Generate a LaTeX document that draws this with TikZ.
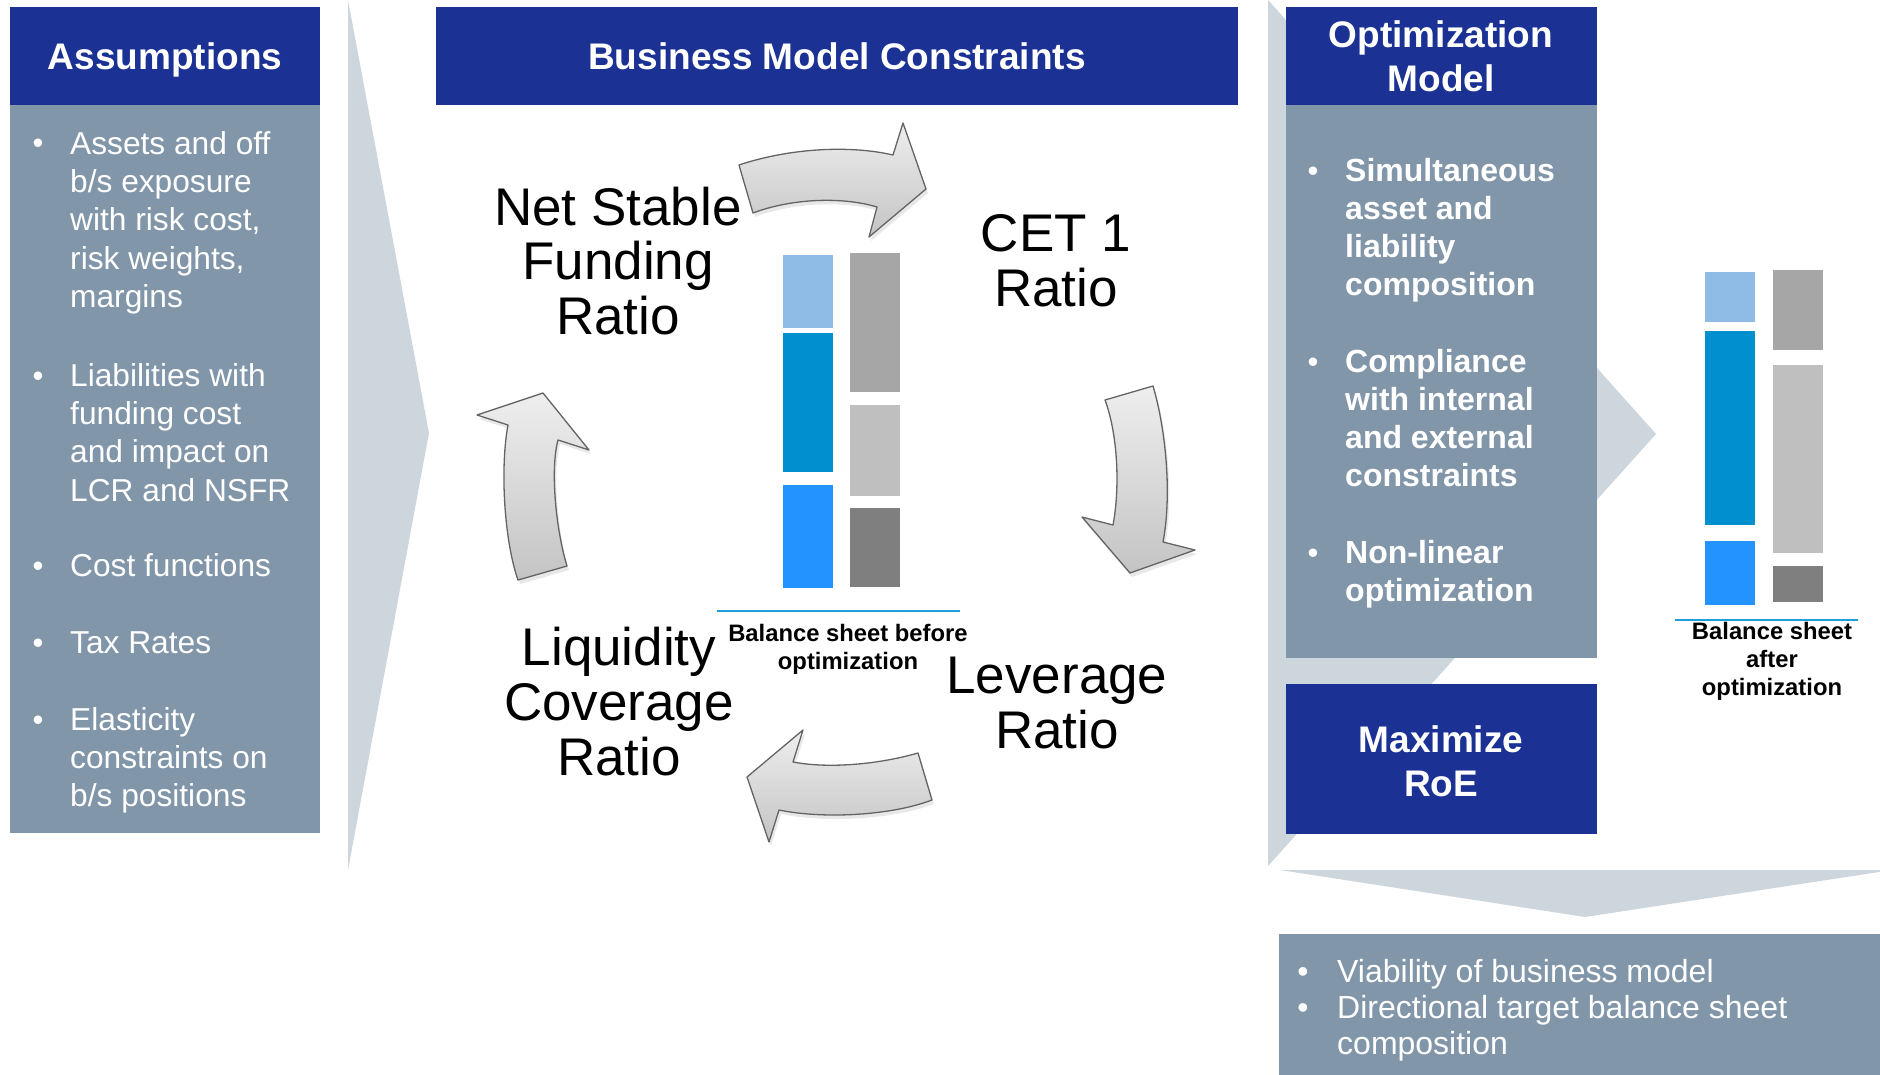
\documentclass[tikz,border=0pt]{standalone}
\usepackage{fontspec}
\setmainfont{Liberation Sans}
\usetikzlibrary{shadows}

\definecolor{hdrblue}{RGB}{27,50,148}
\definecolor{bodygrey}{RGB}{130,150,170}
\definecolor{chevgrey}{RGB}{205,213,221}
\definecolor{paleblue}{RGB}{143,188,230}
\definecolor{midblue}{RGB}{0,144,208}
\definecolor{brightblue}{RGB}{35,148,255}
\definecolor{greyA}{RGB}{166,166,166}
\definecolor{greyB}{RGB}{191,191,191}
\definecolor{greyC}{RGB}{127,127,127}
\definecolor{rulecyan}{RGB}{28,160,214}
\definecolor{arrowedge}{RGB}{100,100,100}
\definecolor{arrowtop}{RGB}{238,238,238}
\definecolor{arrowbottom}{RGB}{196,196,196}

% multi-line nodes are placed by the baseline of their last line
\tikzset{
  hdrtext/.style={text=white, font=\fontsize{37}{44}\selectfont\bfseries,
    inner sep=0pt, align=center, anchor=base},
  itemtext/.style={text=white, font=\fontsize{31.7}{38.4}\selectfont,
    inner sep=0pt, align=left, anchor=base west},
  bolditemtext/.style={itemtext, font=\fontsize{32}{38}\selectfont\bfseries},
  bulletmark/.style={text=white, font=\fontsize{31}{38}\selectfont,
    inner sep=0pt, anchor=base},
  ratiolabel/.style={font=\fontsize{53}{55}\selectfont, inner sep=0pt,
    align=center, anchor=base},
  bscaption/.style={font=\fontsize{23.8}{28}\selectfont\bfseries,
    inner sep=0pt, align=center, anchor=base},
  cyclearrow/.style={top color=arrowtop, bottom color=arrowbottom,
    draw=arrowedge, line width=1.3pt, line join=round,
    drop shadow={opacity=0.18, shadow xshift=2pt, shadow yshift=-4pt}},
  bsrule/.style={draw=rulecyan, line width=1.4pt},
}

\begin{document}
\begin{tikzpicture}[x=1pt, y=-1pt]
\useasboundingbox (0,0) rectangle (1880,1075);

% ---- background chevrons ----
\fill[chevgrey] (348,0) -- (429,433) -- (348,870) -- cycle;
\fill[chevgrey] (1268,0) -- (1656,434) -- (1268,866) -- cycle;
\fill[chevgrey] (1280,870) -- (1892,870) -- (1585,917) -- cycle;

% ---- Assumptions column ----
\fill[hdrblue] (10,7) rectangle (320,105);
\fill[bodygrey] (10,105) rectangle (320,833);
\node[hdrtext] (assumhdr) at (165,70) {Assumptions};

\node[bulletmark] (ab1) at (38,154) {•};
\node[itemtext] (a1) at (70,307.6) {Assets and off\\b/s exposure\\with risk cost,\\risk weights,\\margins};
\node[bulletmark] (ab2) at (38,386) {•};
\node[itemtext] (a2) at (70,501.2) {Liabilities with\\funding cost\\and impact on\\LCR and NSFR};
\node[bulletmark] (ab3) at (38,576) {•};
\node[itemtext] (a3) at (70,576) {Cost functions};
\node[bulletmark] (ab4) at (38,653) {•};
\node[itemtext] (a4) at (70,653) {Tax Rates};
\node[bulletmark] (ab5) at (38,730) {•};
\node[itemtext] (a5) at (70,806.8) {Elasticity\\constraints on\\b/s positions};

% ---- Business model constraints ----
\fill[hdrblue] (436,7) rectangle (1238,105);
\node[hdrtext] (bmchdr) at (837,70) {Business Model Constraints};

% cycle of curved arrows
\shade[cyclearrow] (739,165) .. controls (790,148) and (850,145) .. (893,155)
  -- (903,123) -- (926,189) -- (869,237) -- (877,207)
  .. controls (840,196) and (790,199) .. (753,213) -- cycle;
\shade[cyclearrow] (1105,400) -- (1153,386)
  .. controls (1166,430) and (1172,495) .. (1163,542)
  -- (1195,550) -- (1130,573) -- (1082,517) -- (1113,525)
  .. controls (1120,488) and (1118,435) .. cycle;
\shade[cyclearrow] (918,753) .. controls (880,764) and (830,769) .. (793,762)
  -- (803,730) -- (747,777) -- (769,842) -- (779,810)
  .. controls (822,819) and (890,816) .. (932,800) -- cycle;
\shade[cyclearrow] (518,580) -- (567,566)
  .. controls (556,530) and (550,470) .. (558,440)
  -- (589,450) -- (543,393) -- (477,415) -- (508,425)
  .. controls (500,468) and (504,540) .. cycle;

% ratio labels
\node[ratiolabel] (nsfr) at (618,335) {Net Stable\\Funding\\Ratio};
\node[ratiolabel] (cet1) at (1056,307) {CET 1\\Ratio};
\node[ratiolabel] (lcr) at (619,775) {Liquidity\\Coverage\\Ratio};
\node[ratiolabel] (lev) at (1057,748) {Leverage\\Ratio};

% balance sheet before optimization
\fill[paleblue]   (783,255) rectangle (833,328);
\fill[midblue]    (783,333) rectangle (833,472);
\fill[brightblue] (783,485) rectangle (833,588);
\fill[greyA] (850,253) rectangle (900,392);
\fill[greyB] (850,405) rectangle (900,496);
\fill[greyC] (850,508) rectangle (900,587);
\coordinate (bfl) at (717,611);
\coordinate (bfr) at (960,611);
\draw[bsrule] (bfl) -- (bfr);
\node[bscaption] (bfcap) at (848,669) {Balance sheet before\\optimization};

% ---- Optimization model column ----
\fill[hdrblue] (1286,7) rectangle (1597,105);
\fill[bodygrey] (1286,105) rectangle (1597,658);
\node[hdrtext] (opthdr) at (1441,92) {Optimization\\Model};

\node[bulletmark] (ob1) at (1313,182) {•};
\node[bolditemtext] (o1) at (1345,296) {Simultaneous\\asset and\\liability\\composition};
\node[bulletmark] (ob2) at (1313,372) {•};
\node[bolditemtext] (o2) at (1345,486) {Compliance\\with internal\\and external\\constraints};
\node[bulletmark] (ob3) at (1313,563) {•};
\node[bolditemtext] (o3) at (1345,601) {Non-linear\\optimization};

\fill[hdrblue] (1286,684) rectangle (1597,834);
\node[hdrtext] (maxroe) at (1441,796) {Maximize\\RoE};

% balance sheet after optimization
\fill[paleblue]   (1705,272) rectangle (1755,322);
\fill[midblue]    (1705,331) rectangle (1755,525);
\fill[brightblue] (1705,541) rectangle (1755,605);
\fill[greyA] (1773,270) rectangle (1823,350);
\fill[greyB] (1773,365) rectangle (1823,553);
\fill[greyC] (1773,566) rectangle (1823,602);
\coordinate (afl) at (1675,620);
\coordinate (afr) at (1858,620);
\draw[bsrule] (afl) -- (afr);
\node[bscaption] (afcap) at (1772,695) {Balance sheet\\after\\optimization};

% ---- outcome box ----
\fill[bodygrey] (1279,934) rectangle (1880,1075);
\node[bulletmark, font=\fontsize{32}{36}\selectfont] (rb1) at (1303,982) {•};
\node[itemtext, font=\fontsize{32}{36}\selectfont] (r1) at (1337,982) {Viability of business model};
\node[bulletmark, font=\fontsize{32}{36}\selectfont] (rb2) at (1303,1018) {•};
\node[itemtext, font=\fontsize{32}{36}\selectfont] (r2) at (1337,1054) {Directional target balance sheet\\composition};

\end{tikzpicture}
\end{document}
